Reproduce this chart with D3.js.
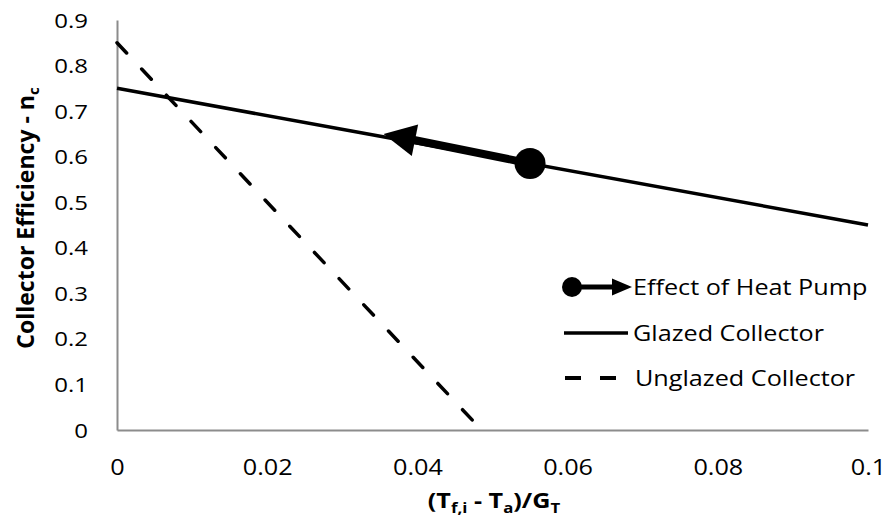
<!DOCTYPE html>
<html><head><meta charset="utf-8">
<script src="https://cdn.jsdelivr.net/npm/d3@7"></script>
<style>body{margin:0;background:#fff}text{font-family:"Open Sans",sans-serif;fill:#000}</style>
</head><body>
<svg id="c" width="890" height="518"></svg>
<script>
// ---- data ----
const xTicks = [0, 0.02, 0.04, 0.06, 0.08, 0.1];
const yTicks = [0, 0.1, 0.2, 0.3, 0.4, 0.5, 0.6, 0.7, 0.8, 0.9];
const glazedX = [0, 0.1];
const glazedY = [0.75, 0.45];
const unglazedX = [0, 0.0473];
const unglazedY = [0.85, 0.022];
const heatPumpX = [0.055, 0.0355];
const heatPumpY = [0.585, 0.65];
const seriesNames = ["Effect of Heat Pump", "Glazed Collector", "Unglazed Collector"];

// ---- layout ----
const svg = d3.select("#c");
const x = d3.scaleLinear().domain([0, 0.1]).range([117, 868]);
const y = d3.scaleLinear().domain([0, 0.9]).range([430, 20]);
const SX = 1.2; // horizontal stretch of text
const axisColor = "#8c8c8c";

function stretch(sel, px, py) {
  sel.attr("x", 0).attr("y", 0).attr("dy", null)
     .attr("transform", `translate(${px},${py}) scale(${SX},1)`);
}

// axes
const gy = svg.append("g").attr("transform", `translate(${x(0)},0)`)
  .call(d3.axisLeft(y).tickValues(yTicks).tickSize(0).tickFormat(d => d3.format("~g")(d)));
gy.select(".domain").attr("stroke", axisColor).attr("stroke-width", 2);
gy.selectAll(".tick text").each(function(d){
  d3.select(this).attr("font-size", 20).attr("text-anchor", "end")
    .attr("font-family", null)
    .call(s => stretch(s, -29, 7));
});

const gx = svg.append("g").attr("transform", `translate(0,${y(0)})`)
  .call(d3.axisBottom(x).tickValues(xTicks).tickSize(0).tickFormat(d => d3.format("~g")(d)));
gx.select(".domain").attr("stroke", axisColor).attr("stroke-width", 2);
gx.selectAll(".tick text").each(function(d){
  d3.select(this).attr("font-size", 21).attr("text-anchor", "middle")
    .attr("font-family", null)
    .call(s => stretch(s, 0, 45));
});
svg.selectAll(".tick line").remove();

// series: unglazed (dashed)
const line = d3.line().x(d => x(d[0])).y(d => y(d[1]));
svg.append("path").datum(d3.zip(unglazedX, unglazedY))
  .attr("d", line).attr("fill", "none").attr("stroke", "#000")
  .attr("stroke-width", 3.5).attr("stroke-dasharray", "14,22").attr("stroke-linecap", "round");
// glazed (solid)
svg.append("path").datum(d3.zip(glazedX, glazedY))
  .attr("d", line).attr("fill", "none").attr("stroke", "#000").attr("stroke-width", 3.5);

// heat pump arrow
function arrow(g, x0, y0, x1, y1, shaftW, headLen, headHalf, r) {
  const dx = x1 - x0, dy = y1 - y0, L = Math.hypot(dx, dy);
  const ux = dx / L, uy = dy / L, nx = -uy, ny = ux;
  const bx = x1 - ux * headLen, by = y1 - uy * headLen;
  g.append("line").attr("x1", x0).attr("y1", y0).attr("x2", bx + ux).attr("y2", by + uy)
    .attr("stroke", "#000").attr("stroke-width", shaftW);
  g.append("path").attr("d", `M${x1},${y1}L${bx + nx * headHalf},${by + ny * headHalf}L${bx - nx * headHalf},${by - ny * headHalf}Z`)
    .attr("fill", "#000");
  g.append("circle").attr("cx", x0).attr("cy", y0).attr("r", r).attr("fill", "#000");
}
arrow(svg.append("g"), x(heatPumpX[0]), y(heatPumpY[0]), x(heatPumpX[1]), y(heatPumpY[1]), 8, 32, 16, 15.5);

// legend
const lg = svg.append("g");
const lx = 565, rows = [287, 333, 378];
arrow(lg, lx + 7, rows[0], lx + 67, rows[0], 5, 20, 8.5, 10);
lg.append("line").attr("x1", lx - 1).attr("x2", lx + 63).attr("y1", rows[1]).attr("y2", rows[1])
  .attr("stroke", "#000").attr("stroke-width", 3.5);
lg.append("line").attr("x1", lx).attr("x2", lx + 63).attr("y1", rows[2]).attr("y2", rows[2])
  .attr("stroke", "#000").attr("stroke-width", 4).attr("stroke-dasharray", "16,19");
seriesNames.forEach((n, i) => {
  lg.append("text").text(n).attr("font-size", 21).call(s => stretch(s, i === 2 ? 635 : 633, rows[i] + 8));
});

// axis titles
const yt = svg.append("text").attr("font-weight", "bold").attr("font-size", 23)
  .attr("text-anchor", "middle")
  .attr("transform", `translate(34,218) rotate(-90)`);
yt.append("tspan").text("Collector Efficiency - n");
yt.append("tspan").text("c").attr("font-size", 15).attr("dy", 5);

const xt = svg.append("text").attr("font-weight", "bold").attr("font-size", 21)
  .attr("text-anchor", "middle");
xt.append("tspan").text("(T");
xt.append("tspan").text("f,i").attr("font-size", 14).attr("dy", 5);
xt.append("tspan").text(" - T").attr("dy", -5);
xt.append("tspan").text("a").attr("font-size", 14).attr("dy", 5);
xt.append("tspan").text(")/G").attr("dy", -5);
xt.append("tspan").text("T").attr("font-size", 14).attr("dy", 5);
xt.call(s => stretch(s, 494, 508));
</script>
</body></html>
